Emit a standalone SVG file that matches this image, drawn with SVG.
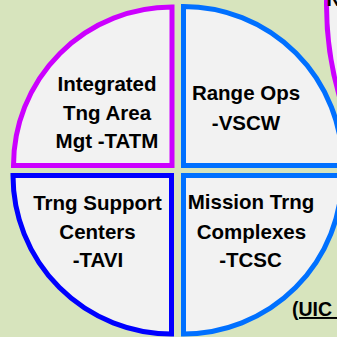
<svg xmlns="http://www.w3.org/2000/svg" width="337" height="337" viewBox="0 0 337 337">
<style>
.q{fill:#f2f2f2;stroke-width:5;stroke-linejoin:miter}
.p{stroke:#cc00ff}
.b{stroke:#0070ff}
.d{stroke:#0000ff}
.t{font-family:"Liberation Sans",Arial,sans-serif;font-weight:bold;font-size:20.5px;fill:#000;text-anchor:middle}
</style>
<rect width="337" height="337" fill="#d7e4bd"/>
<g id="other-circle">
<circle class="q p" cx="656.5" cy="5" r="330"/>
<text class="t" x="326.5" y="6" style="text-anchor:start">N</text>
</g>
<g id="tatm">
<path class="q p" d="M172,165.5 L13.5,165.5 A158.5,158.5 0 0 1 172,7 Z"/>
<text class="t" x="107" y="91">Integrated</text>
<text class="t" x="107" y="120">Tng Area</text>
<text class="t" x="107" y="148">Mgt -TATM</text>
</g>
<g id="vscw">
<path class="q b" d="M183.5,165.5 L183.5,6.5 A159,159 0 0 1 342.5,165.5 Z"/>
<text class="t" x="246" y="100">Range Ops</text>
<text class="t" x="246" y="130">-VSCW</text>
</g>
<g id="tavi">
<path class="q d" d="M171.5,175.5 L171.5,334 A158.5,158.5 0 0 1 13,175.5 Z"/>
<text class="t" x="97.5" y="210">Trng Support</text>
<text class="t" x="97.5" y="239">Centers</text>
<text class="t" x="98" y="267">-TAVI</text>
</g>
<g id="tcsc">
<path class="q b" d="M183.5,175.5 L342,175.5 A158.5,158.5 0 0 1 183.5,334 Z"/>
<text class="t" x="251" y="209">Mission Trng</text>
<text class="t" x="251.5" y="239">Complexes</text>
<text class="t" x="250.5" y="267">-TCSC</text>
</g>
<g id="uic">
<text class="t" x="292" y="316" style="text-anchor:start;font-size:19.5px;text-decoration:underline;white-space:pre">(UIC  </text>
</g>
</svg>
